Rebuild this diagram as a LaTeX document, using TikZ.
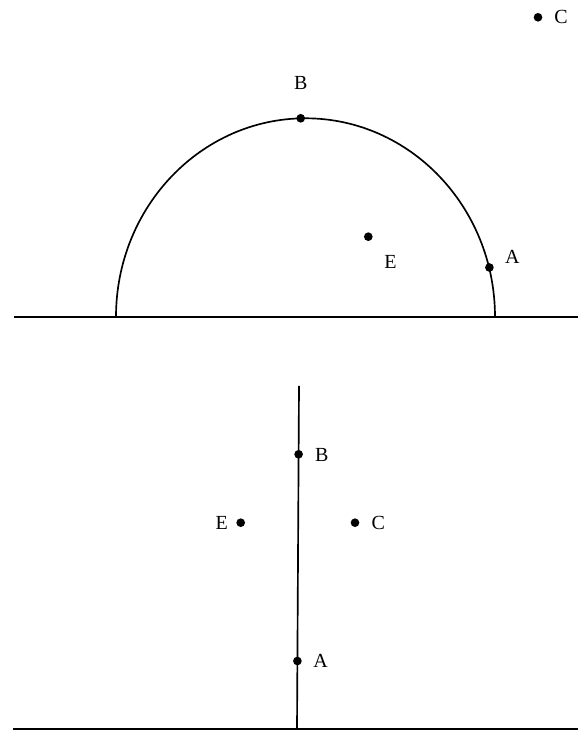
\documentclass[tikz,border=0pt]{standalone}
\usepackage{fontspec}
\setmainfont{Liberation Serif}
\usetikzlibrary{positioning}

\begin{document}
\begin{tikzpicture}[x=0.6pt,y=0.6pt,
 dot/.style={circle,fill=black,inner sep=0pt,minimum size=5.2pt},
 lbl/.style={inner sep=1pt,font=\fontsize{12}{14}\selectfont},
 every path/.style={line width=1pt}]
 \useasboundingbox (0,0) rectangle (578,733);
 % upper view: ground and dome
 \coordinate (gndL) at (14,416);
 \coordinate (gndR) at (578,416);
 \coordinate (domeL) at (116,416);
 \draw (gndL) -- (gndR);
 \draw (domeL) arc[start angle=180,end angle=0,x radius=189.5,y radius=198.7];
 \node[dot] (uB) at (300.7,614.7) {};
 \node[dot] (uA) at (489.4,465.5) {};
 \node[dot] (uE) at (368.3,496.3) {};
 \node[dot] (uC) at (538,715.7) {};
 \node[lbl] (uBl) at (300.7,649.7) {B};
 \node[lbl] (uAl) at (512.4,476.3) {A};
 \node[lbl] (uEl) at (390.5,471) {E};
 \node[lbl] (uCl) at (561,716) {C};
 % lower view: ground and pole
 \coordinate (baseL) at (13,4);
 \coordinate (baseR) at (578,4);
 \coordinate (poleBot) at (297,4);
 \coordinate (poleTop) at (299,347);
 \draw (baseL) -- (baseR);
 \draw (poleBot) -- (poleTop);
 \node[dot] (lB) at (298.6,278.7) {};
 \node[dot] (lA) at (297.4,72) {};
 \node[dot] (lE) at (240.7,210.3) {};
 \node[dot] (lC) at (355,210.3) {};
 \node[lbl] (lBl) at (321.7,278) {B};
 \node[lbl] (lAl) at (320.7,72) {A};
 \node[lbl] (lEl) at (221.7,210.3) {E};
 \node[lbl] (lCl) at (378.3,210.3) {C};
\end{tikzpicture}
\end{document}
